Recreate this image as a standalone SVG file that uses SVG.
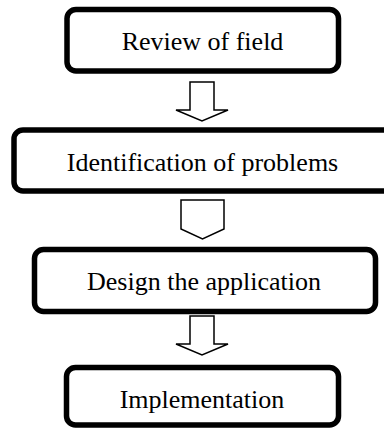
<svg xmlns="http://www.w3.org/2000/svg" width="384" height="430" viewBox="0 0 384 430">
<style>
.box{fill:#fff;stroke:#000;stroke-width:5.5}
.lbl{font-family:"Liberation Serif","Times New Roman",serif;font-size:26px;fill:#000;text-anchor:middle}
.arr{fill:#fff;stroke:#000;stroke-width:1.5;stroke-linejoin:miter}
</style>
<rect width="384" height="430" fill="#fff"/>
<g id="connectors">
<path class="arr" d="M190,82 H214 V110 H228 L202,121 L176,110 H190 Z"/>
<path class="arr" d="M181,200 H224 V229 L202.5,239 L181,229 Z"/>
<path class="arr" d="M190,316 H214 V344 H228 L202,355 L176,344 H190 Z"/>
</g>
<g id="review">
<rect class="box" x="67" y="9.5" width="271.5" height="61.5" rx="9"/>
<text class="lbl" x="202.5" y="50">Review of field</text>
</g>
<g id="identification">
<rect class="box" x="14" y="130" width="380" height="61" rx="9"/>
<text class="lbl" x="202.5" y="171">Identification of problems</text>
</g>
<g id="design">
<rect class="box" x="34.5" y="249.5" width="341" height="62" rx="9"/>
<text class="lbl" x="204" y="290">Design the application</text>
</g>
<g id="implementation">
<rect class="box" x="66.5" y="367.5" width="272" height="57.5" rx="9"/>
<text class="lbl" x="202" y="408">Implementation</text>
</g>
</svg>
